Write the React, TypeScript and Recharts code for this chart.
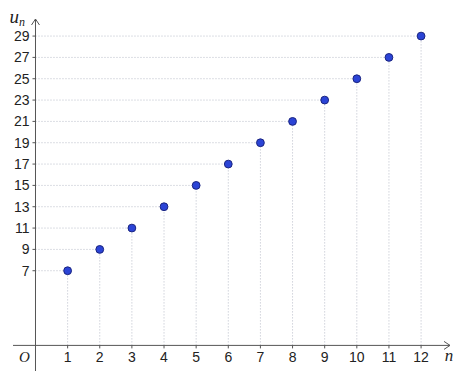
import React from "react";
import { ComposedChart, XAxis, YAxis, Scatter, ReferenceLine, ReferenceDot } from "recharts";

const nValues = [1, 2, 3, 4, 5, 6, 7, 8, 9, 10, 11, 12];
const uValues = [7, 9, 11, 13, 15, 17, 19, 21, 23, 25, 27, 29];
const xTicks = [1, 2, 3, 4, 5, 6, 7, 8, 9, 10, 11, 12];
const yTicks = [7, 9, 11, 13, 15, 17, 19, 21, 23, 25, 27, 29];

const X_MIN = -0.7;
const X_MAX = 12.9;
const Y_MIN = -2.4;
const Y_MAX = 30.6;

const AXIS = "#555";
const GUIDE = "#b8bcc8";
const LABEL_FONT = "'Liberation Sans', Arial, sans-serif";
const MATH_FONT = "'Liberation Serif', 'DejaVu Serif', serif";

const data = nValues.map((n, i) => ({ n, u: uValues[i] }));

const dot = (props: any) => (
  <circle cx={props.cx} cy={props.cy} r={3.9} fill="#2b44d6" stroke="#1b2580" strokeWidth={1} />
);

const xTick = (label: number) => (props: any) => (
  <g>
    <line x1={props.cx} y1={props.cy} x2={props.cx} y2={props.cy + 3} stroke={AXIS} />
    <text x={props.cx} y={props.cy + 17} textAnchor="middle" fontSize={14} fontFamily={LABEL_FONT} fill="#222">
      {label}
    </text>
  </g>
);

const yTick = (label: number) => (props: any) => (
  <g>
    <line x1={props.cx - 3} y1={props.cy} x2={props.cx} y2={props.cy} stroke={AXIS} />
    <text x={props.cx - 6} y={props.cy + 5} textAnchor="end" fontSize={14} fontFamily={LABEL_FONT} fill="#222">
      {label}
    </text>
  </g>
);

const arrowRight = (props: any) => (
  <path d={`M${props.cx - 6},${props.cy - 4} L${props.cx},${props.cy} L${props.cx - 6},${props.cy + 4}`} fill="none" stroke={AXIS} />
);

const arrowUp = (props: any) => (
  <path d={`M${props.cx - 4},${props.cy + 6} L${props.cx},${props.cy} L${props.cx + 4},${props.cy + 6}`} fill="none" stroke={AXIS} />
);

const originLabel = (props: any) => (
  <text x={props.cx - 11} y={props.cy + 17} textAnchor="middle" fontSize={15} fontStyle="italic" fontFamily={MATH_FONT} fill="#222">
    O
  </text>
);

const nLabel = (props: any) => (
  <text x={props.cx - 1} y={props.cy + 16} textAnchor="middle" fontSize={17} fontStyle="italic" fontFamily={MATH_FONT} fill="#222">
    n
  </text>
);

const uLabel = (props: any) => (
  <text x={props.cx - 26} y={props.cy + 4} fontSize={19} fontStyle="italic" fontFamily={MATH_FONT} fill="#222">
    u<tspan fontSize={12} dy={3}>n</tspan>
  </text>
);

export default function App() {
  return (
    <div style={{ position: "absolute", left: 0, top: 0, background: "#fff" }}>
      <ComposedChart width={467} height={371} data={data} margin={{ top: 19, right: 17, bottom: 0, left: 13 }}>
        <XAxis type="number" dataKey="n" domain={[X_MIN, X_MAX]} hide allowDataOverflow />
        <YAxis type="number" dataKey="u" domain={[Y_MIN, Y_MAX]} hide allowDataOverflow />
        {data.map((d) => (
          <ReferenceLine
            key={`v${d.n}`}
            segment={[{ x: d.n, y: 0 }, { x: d.n, y: d.u }]}
            stroke={GUIDE}
            strokeDasharray="1 2"
          />
        ))}
        {data.map((d) => (
          <ReferenceLine
            key={`h${d.n}`}
            segment={[{ x: 0, y: d.u }, { x: d.n, y: d.u }]}
            stroke={GUIDE}
            strokeDasharray="1 2"
          />
        ))}
        <ReferenceLine segment={[{ x: X_MIN, y: 0 }, { x: X_MAX, y: 0 }]} stroke={AXIS} />
        <ReferenceLine segment={[{ x: 0, y: Y_MIN }, { x: 0, y: Y_MAX }]} stroke={AXIS} />
        <ReferenceDot x={X_MAX} y={0} shape={arrowRight} />
        <ReferenceDot x={0} y={Y_MAX} shape={arrowUp} />
        {xTicks.map((t) => (
          <ReferenceDot key={`xt${t}`} x={t} y={0} shape={xTick(t)} />
        ))}
        {yTicks.map((t) => (
          <ReferenceDot key={`yt${t}`} x={0} y={t} shape={yTick(t)} />
        ))}
        <ReferenceDot x={0} y={0} shape={originLabel} />
        <ReferenceDot x={X_MAX} y={0} shape={nLabel} />
        <ReferenceDot x={0} y={Y_MAX} shape={uLabel} />
        <Scatter dataKey="u" shape={dot} isAnimationActive={false} />
      </ComposedChart>
    </div>
  );
}
